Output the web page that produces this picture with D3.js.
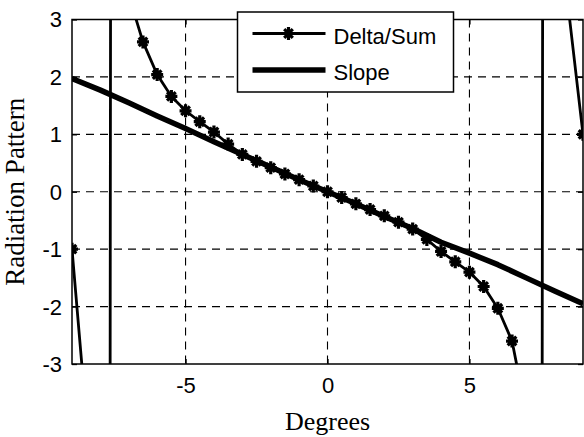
<!DOCTYPE html>
<meta charset="utf-8">
<script src="https://d3js.org/d3.v7.min.js"></script>
<style>
  body { margin: 0; background: #fff; }
</style>
<div id="my_dataviz"></div>
<script>

    // values
    var degrees  = [-9, -8.5, -8, -7.5, -7, -6.5, -6, -5.5, -5, -4.5, -4, -3.5, -3, -2.5, -2, -1.5, -1, -0.5,
                    0, 0.5, 1, 1.5, 2, 2.5, 3, 3.5, 4, 4.5, 5, 5.5, 6, 6.5, 7, 7.5, 8, 8.5, 9];
    var deltaSum = [-1.0, -3.9, -150, 64, 3.42, 2.61, 2.04, 1.66, 1.41, 1.22, 1.04, 0.83, 0.65, 0.53, 0.42, 0.31, 0.21, 0.10,
                    0, -0.10, -0.21, -0.31, -0.42, -0.53, -0.65, -0.83, -1.04, -1.22, -1.40, -1.65, -2.03, -2.60, -3.85, -30, 185, 3.13, 1.0];
    var slopeDeg = [-9, -8, -7, -6, -5, -4, -3, -2, -1, 0, 1, 2, 3, 4, 5, 6, 7, 8, 9];
    var slope    = [1.97, 1.77, 1.55, 1.32, 1.10, 0.87, 0.65, 0.43, 0.21, 0, -0.21, -0.43, -0.64, -0.88, -1.07, -1.27, -1.50, -1.73, -1.95];
    var xTicks = [-5, 0, 5];
    var yTicks = [-3, -2, -1, 0, 1, 2, 3];
    var legendLabels = ["Delta/Sum", "Slope"];

    var margin = {top: 19.5, right: 1, bottom: 73, left: 72},
      width = 584 - margin.left - margin.right,
      height = 437 - margin.top - margin.bottom;

    var svg = d3.select("#my_dataviz")
    .append("svg")
      .attr("width", width + margin.left + margin.right)
      .attr("height", height + margin.top + margin.bottom)
    .append("g")
      .attr("transform", "translate(" + margin.left + "," + margin.top + ")");

    var x = d3.scaleLinear().domain([-9, 9]).range([0, width]);
    var y = d3.scaleLinear().domain([-3, 3]).range([height, 0]);

    svg.append("clipPath").attr("id", "plotclip")
      .append("rect").attr("width", width).attr("height", height);

    // dashed grid
    svg.selectAll(".gx").data(xTicks).enter().append("line")
      .attr("x1", d => x(d)).attr("x2", d => x(d))
      .attr("y1", 0).attr("y2", height)
      .attr("stroke", "#000").attr("stroke-width", 1.1).attr("stroke-dasharray", "8,6");
    svg.selectAll(".gy").data(yTicks.filter(d => d > -3 && d < 3)).enter().append("line")
      .attr("x1", 0).attr("x2", width)
      .attr("y1", d => y(d)).attr("y2", d => y(d))
      .attr("stroke", "#000").attr("stroke-width", 1.1).attr("stroke-dasharray", "8,6");

    // axes, ticks pointing inward, plain hyphen minus like matlab
    var font = "'Liberation Sans', Arial, sans-serif";
    var fmt = function(d) { return String(d); };
    svg.append("g")
      .attr("transform", "translate(0," + height + ")")
      .call(d3.axisBottom(x).tickValues(xTicks).tickSize(-5).tickPadding(13).tickFormat(fmt));
    var yAxis = svg.append("g")
      .call(d3.axisLeft(y).tickValues(yTicks).tickSize(-5).tickPadding(10).tickFormat(fmt));
    svg.append("g")
      .call(d3.axisTop(x).tickValues(xTicks).tickSize(-5).tickFormat(""));
    svg.append("g")
      .attr("transform", "translate(" + width + ",0)")
      .call(d3.axisRight(y).tickValues(yTicks).tickSize(-5).tickFormat(""));
    svg.selectAll(".domain").remove();
    svg.selectAll(".tick line").attr("stroke", "#000").attr("stroke-width", 1.3);
    svg.selectAll(".tick text").attr("fill", "#000")
      .style("font-family", font).style("font-size", "22px");
    yAxis.selectAll(".tick text").attr("dy", "0.34em");

    // data lines
    var plot = svg.append("g").attr("clip-path", "url(#plotclip)");

    var line = d3.line().x(d => x(d[0])).y(d => y(d[1]));

    plot.append("path")
      .datum(slopeDeg.map((d, i) => [d, slope[i]]))
      .attr("d", line)
      .attr("fill", "none").attr("stroke", "#000").attr("stroke-width", 5.5)
      .attr("stroke-linejoin", "round");

    var deltaPts = degrees.map((d, i) => [d, deltaSum[i]]);
    plot.append("path")
      .datum(deltaPts)
      .attr("d", line)
      .attr("fill", "none").attr("stroke", "#000").attr("stroke-width", 2.8);

    // asterisk marker like matlab '*'
    var star = "M0,-6.5V6.5M-6,0H6M-4.3,-4.3L4.3,4.3M-4.3,4.3L4.3,-4.3";
    plot.selectAll(".mk").data(deltaPts).enter().append("path")
      .attr("transform", d => "translate(" + x(d[0]) + "," + y(d[1]) + ")")
      .attr("d", star)
      .attr("fill", "none").attr("stroke", "#000").attr("stroke-width", 3.2);

    // box
    svg.append("rect")
      .attr("width", width).attr("height", height)
      .attr("fill", "none").attr("stroke", "#000").attr("stroke-width", 1.5);

    // axis titles
    svg.append("text")
      .attr("x", x(0)).attr("y", height + 66)
      .attr("text-anchor", "middle")
      .style("font-family", "'Liberation Serif', 'Times New Roman', serif")
      .style("font-size", "26px")
      .text("Degrees");
    svg.append("text")
      .attr("transform", "translate(" + (-48) + "," + (height / 2) + ") rotate(-90)")
      .attr("text-anchor", "middle")
      .style("font-family", "'Liberation Serif', 'Times New Roman', serif")
      .style("font-size", "27px")
      .text("Radiation Pattern");

    // legend
    var lg = svg.append("g").attr("transform", "translate(" + (237.5 - margin.left) + "," + (12 - margin.top) + ")");
    lg.append("rect")
      .attr("width", 216).attr("height", 80)
      .attr("fill", "#fff").attr("stroke", "#000").attr("stroke-width", 1.5);
    lg.append("line").attr("x1", 15).attr("x2", 88).attr("y1", 21.5).attr("y2", 21.5)
      .attr("stroke", "#000").attr("stroke-width", 2.8);
    lg.append("path").attr("transform", "translate(51,21.5)").attr("d", star)
      .attr("fill", "none").attr("stroke", "#000").attr("stroke-width", 3.2);
    lg.append("line").attr("x1", 15).attr("x2", 88).attr("y1", 58).attr("y2", 58)
      .attr("stroke", "#000").attr("stroke-width", 5.5);
    lg.selectAll(".lt").data(legendLabels).enter().append("text")
      .attr("x", 96)
      .attr("y", (d, i) => i === 0 ? 31.5 : 68)
      .style("font-family", font).style("font-size", "22px")
      .text(d => d);

</script>
